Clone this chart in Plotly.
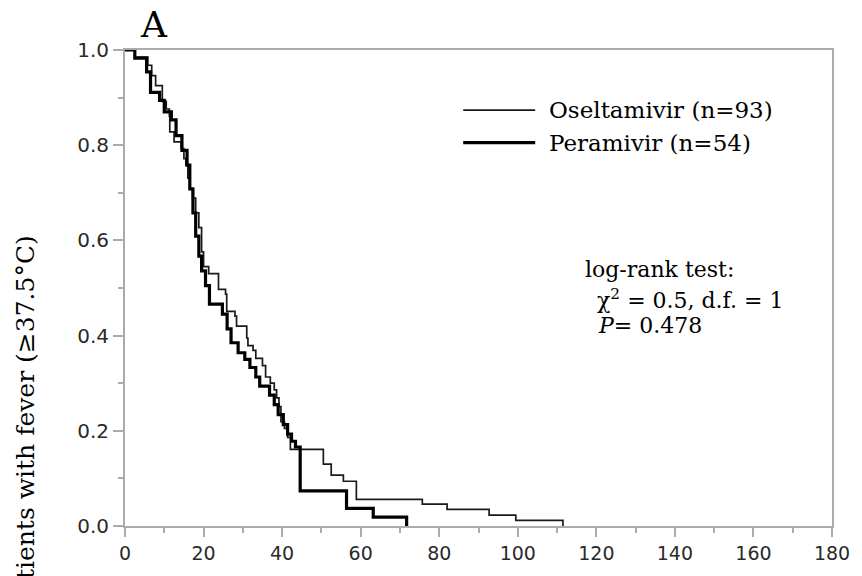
import plotly.graph_objects as go

# Kaplan-Meier step data (days, proportion with fever)
osel_days = [0, 2.5, 5.8, 6.8, 7.8, 9.5, 10.5, 11.3, 11.4, 12.5, 14.3, 15.0, 15.5, 16.0, 16.5,
             17.2, 18.0, 18.8, 19.5, 20.0, 21.3, 23.8, 25.6, 25.9, 28.0, 28.4, 31.0, 31.3,
             32.6, 33.3, 35.0, 35.8, 37.0, 38.0, 38.6, 39.2, 39.7, 40.6, 41.4, 42.1, 50.5,
             52.5, 55.6, 58.9, 75.7, 82.0, 92.7, 99.5, 111.5]
osel_surv = [1.0, 0.985, 0.968, 0.946, 0.925, 0.892, 0.876, 0.861, 0.828, 0.807, 0.793, 0.772,
             0.758, 0.731, 0.710, 0.689, 0.658, 0.627, 0.576, 0.545, 0.530, 0.497, 0.487, 0.451,
             0.441, 0.420, 0.395, 0.379, 0.369, 0.352, 0.337, 0.313, 0.300, 0.286, 0.269, 0.251,
             0.219, 0.205, 0.186, 0.161, 0.130, 0.107, 0.094, 0.056, 0.046, 0.035, 0.023, 0.012,
             0.0]

pera_days = [0, 2.5, 5.5, 6.5, 8.8, 10.0, 11.8, 13.0, 14.5, 15.8, 16.5, 17.3, 18.0, 18.8, 19.5,
             20.5, 21.5, 24.8, 26.0, 27.0, 28.8, 30.5, 31.8, 33.3, 34.3, 36.8, 38.0, 39.0, 40.3,
             41.4, 42.4, 43.4, 44.6, 56.4, 63.2, 71.7]
pera_surv = [1.0, 0.983, 0.954, 0.911, 0.894, 0.870, 0.853, 0.820, 0.789, 0.758, 0.708, 0.658,
             0.609, 0.567, 0.536, 0.505, 0.466, 0.445, 0.414, 0.385, 0.364, 0.350, 0.333, 0.313,
             0.294, 0.275, 0.255, 0.234, 0.213, 0.193, 0.178, 0.166, 0.074, 0.037, 0.0185, 0.0]

series_names = ["Oseltamivir (n=93)", "Peramivir (n=54)"]
x_ticks = [0, 20, 40, 60, 80, 100, 120, 140, 160, 180]
y_ticks = [0.0, 0.2, 0.4, 0.6, 0.8, 1.0]
y_tick_text = ["0.0", "0.2", "0.4", "0.6", "0.8", "1.0"]

SERIF = "DejaVu Serif"
SANS = "DejaVu Sans"
BOX = "#ababab"
TICKCOL = "#2a2a2a"

fig = go.Figure()
fig.add_trace(go.Scatter(x=osel_days, y=osel_surv, mode="lines", line_shape="hv",
                         line=dict(color="#1a1a1a", width=1.7), name=series_names[0],
                         showlegend=False))
fig.add_trace(go.Scatter(x=pera_days, y=pera_surv, mode="lines", line_shape="hv",
                         line=dict(color="#000000", width=3.2), name=series_names[1],
                         showlegend=False))

W, H = 862, 576
L, R, T, B = 125, 20, 50, 43
pw, ph = W - L - R, H - T - B

def px_x(px):
    return (px - L) / pw

def px_y(py):
    return (H - B - py) / ph

# manual legend (long key lines as in reference)
legend_rows = [(111, 1.7, "#1a1a1a"), (144, 3.2, "#000000")]
for (py, w, c), name in zip(legend_rows, series_names):
    fig.add_shape(type="line", xref="paper", yref="paper",
                  x0=px_x(468), x1=px_x(541), y0=px_y(py), y1=px_y(py),
                  line=dict(color=c, width=w))
    fig.add_annotation(xref="paper", yref="paper", x=px_x(553), y=px_y(py),
                       xanchor="left", yanchor="middle", showarrow=False,
                       text=name, font=dict(family=SERIF, size=23, color="#000"))

# log-rank annotation
stats = [(589, 273, "log-rank test:"),
         (602, 303, "\u03c7<sup>2</sup> = 0.5, d.f. = 1"),
         (603, 330, "<i>P</i>= 0.478")]
for px, py, txt in stats:
    fig.add_annotation(xref="paper", yref="paper", x=px_x(px), y=px_y(py),
                       xanchor="left", yanchor="middle", showarrow=False,
                       text=txt, font=dict(family=SERIF, size=22, color="#000"))

# panel letter
fig.add_annotation(xref="paper", yref="paper", x=px_x(154), y=px_y(24),
                   xanchor="center", yanchor="middle", showarrow=False,
                   text="A", font=dict(family=SERIF, size=36, color="#000"))

# y axis title (clipped at bottom as in reference)
fig.add_annotation(xref="paper", yref="paper", x=px_x(24), y=px_y(236),
                   xanchor="center", yanchor="top", showarrow=False, textangle=-90,
                   text="Proportion of patients with fever (\u226537.5\u00b0C)",
                   font=dict(family=SERIF, size=25, color="#000"))

fig.update_layout(
    width=W, height=H,
    margin=dict(l=L, r=R, t=T, b=B, pad=0),
    paper_bgcolor="white", plot_bgcolor="white",
    showlegend=False,
    xaxis=dict(range=[0, 180], tickvals=x_ticks, ticktext=[str(v) for v in x_ticks],
               showgrid=False, zeroline=False, showline=True, linecolor=BOX, linewidth=2,
               mirror=True, ticks="outside", ticklen=9, tickwidth=1.5, tickcolor=BOX,
               minor=dict(dtick=10, ticks="outside", ticklen=5, tickwidth=1.5, tickcolor=BOX,
                          showgrid=False),
               tickfont=dict(family=SANS, size=19, color=TICKCOL)),
    yaxis=dict(range=[0, 1.0], tickvals=y_ticks, ticktext=y_tick_text,
               showgrid=False, zeroline=False, showline=True, linecolor=BOX, linewidth=2,
               mirror=True, ticks="outside", ticklen=10, tickwidth=1.5, tickcolor=BOX,
               minor=dict(dtick=0.1, ticks="outside", ticklen=5, tickwidth=1.5, tickcolor=BOX,
                          showgrid=False),
               tickfont=dict(family=SANS, size=20, color=TICKCOL)),
)

fig.write_html("out.html")
